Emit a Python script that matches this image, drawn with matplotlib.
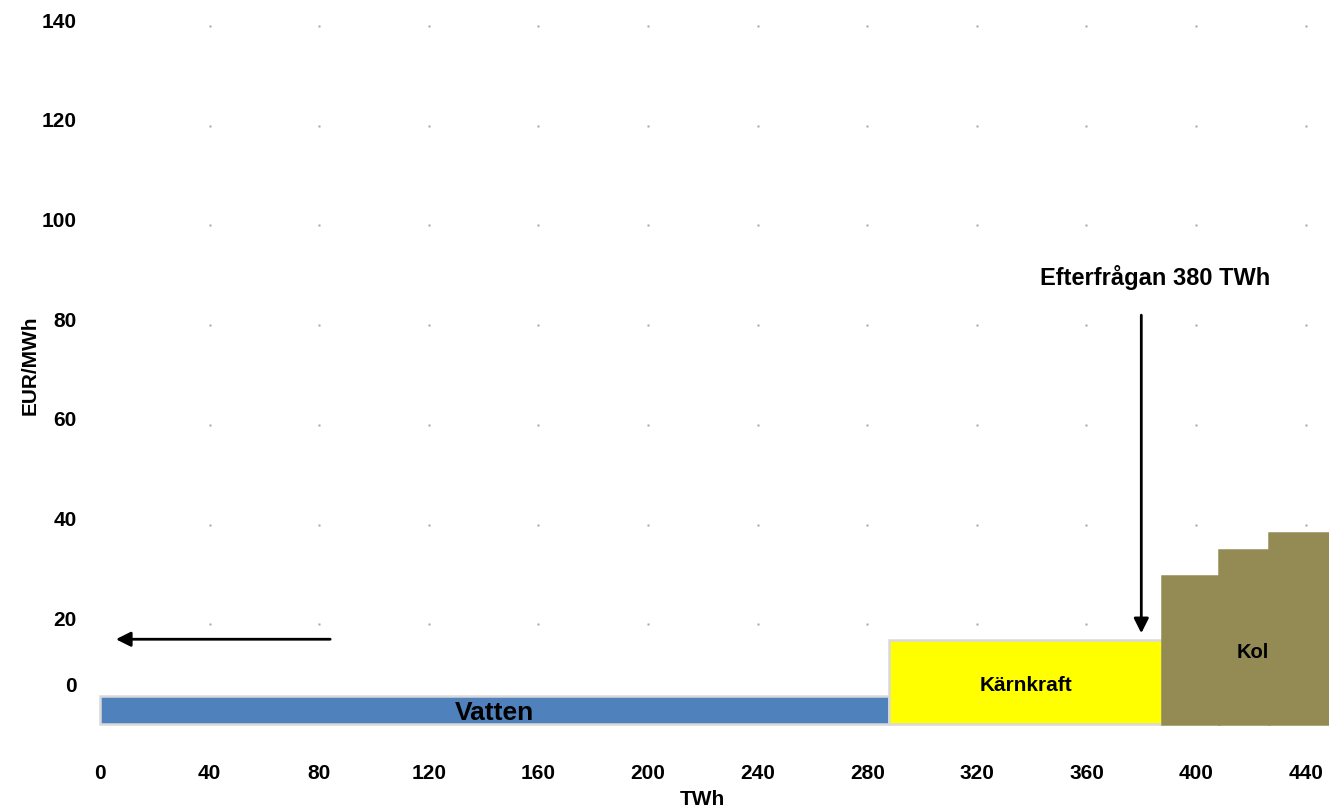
import numpy as np
import matplotlib.pyplot as plt
from matplotlib.transforms import offset_copy

plt.rcParams['font.family'] = ['Liberation Sans', 'DejaVu Sans']
plt.rcParams['font.weight'] = 'bold'

# Supply blocks (merit order): start TWh, width TWh, price EUR/MWh
sources = ['Vatten', 'Kärnkraft', 'Kol', 'Kol', 'Kol']
starts = [0, 288, 387.6, 408.4, 426.6]
widths = [288, 99.6, 20.8, 18.2, 22]
prices = [5.6, 16.9, 29.7, 35.0, 38.4]
colors = ['#4f81bd', '#ffff00', '#948a54', '#948a54', '#948a54']

demand = 380
demand_label = 'Efterfrågan 380 TWh'

xticks = list(range(0, 441, 40))
yticks = list(range(0, 141, 20))

fig = plt.figure(figsize=(13.29, 8.12), dpi=100)
ax = fig.add_axes([100 / 1329, 87 / 812, 1229 / 1329, 698 / 812])
ax.set_xlim(0, 448.5)
ax.set_ylim(0, 140)

# dotted grid: only small dots at the intersections
gx, gy = np.meshgrid(xticks[1:], yticks[1:])
ax.plot(gx.ravel(), gy.ravel(), ls='none', marker='s', ms=1.6,
        color='#a6a6a6', mec='none', clip_on=False, zorder=1)

# blocks
for i in range(len(sources)):
    ec = '#d9d9d9' if sources[i] != 'Kol' else colors[i]
    ax.bar(starts[i], prices[i], width=widths[i], align='edge',
           color=colors[i], edgecolor=ec, linewidth=1.8, zorder=2,
           clip_on=False)

# labels inside blocks
ax.text(starts[0] + widths[0] * 0.5, 2.4, 'Vatten',
        ha='center', va='center', fontsize=19, color='#000000', zorder=3)
ax.text(starts[1] + widths[1] * 0.5, 7.9, 'Kärnkraft',
        ha='center', va='center', fontsize=15, zorder=3)
ax.text(420.5, 14.6, 'Kol', ha='center', va='center', fontsize=14.5, zorder=3)

# demand arrow and text
ax.annotate('', xy=(demand, prices[1] + 1.3), xytext=(demand, 82),
            arrowprops=dict(arrowstyle='-|>', color='black', lw=2,
                            mutation_scale=22, shrinkA=0, shrinkB=0))
ax.text(385, 89.8, demand_label, ha='center', va='center', fontsize=17)

# left arrow
ax.annotate('', xy=(5.8, 17), xytext=(84, 17),
            arrowprops=dict(arrowstyle='-|>', color='black', lw=2,
                            mutation_scale=22, shrinkA=0, shrinkB=0))

for s in ax.spines.values():
    s.set_visible(False)

ax.set_xticks(xticks)
ax.set_xticklabels([str(v) for v in xticks], fontsize=15)
ax.tick_params(axis='x', length=0, pad=28)
ax.set_yticks(yticks)
ax.set_yticklabels([str(v) for v in yticks], fontsize=15)
ax.tick_params(axis='y', length=0, pad=17)
for lab in ax.get_yticklabels():
    dy = 40 if lab.get_text() == '0' else 7
    lab.set_transform(offset_copy(lab.get_transform(), fig=fig, x=0, y=dy, units='dots'))

ax.set_xlabel('TWh', fontsize=15, fontweight='bold')
ax.xaxis.set_label_coords((702 - 100) / 1229, -(800 - 725) / 698)
ax.xaxis.label.set_va('center')
ax.set_ylabel('EUR/MWh', fontsize=15, fontweight='bold')
ax.yaxis.set_label_coords((30 - 100) / 1229, (725 - 365) / 698)
ax.yaxis.label.set_va('center')

fig.savefig('out.png', dpi=100)
